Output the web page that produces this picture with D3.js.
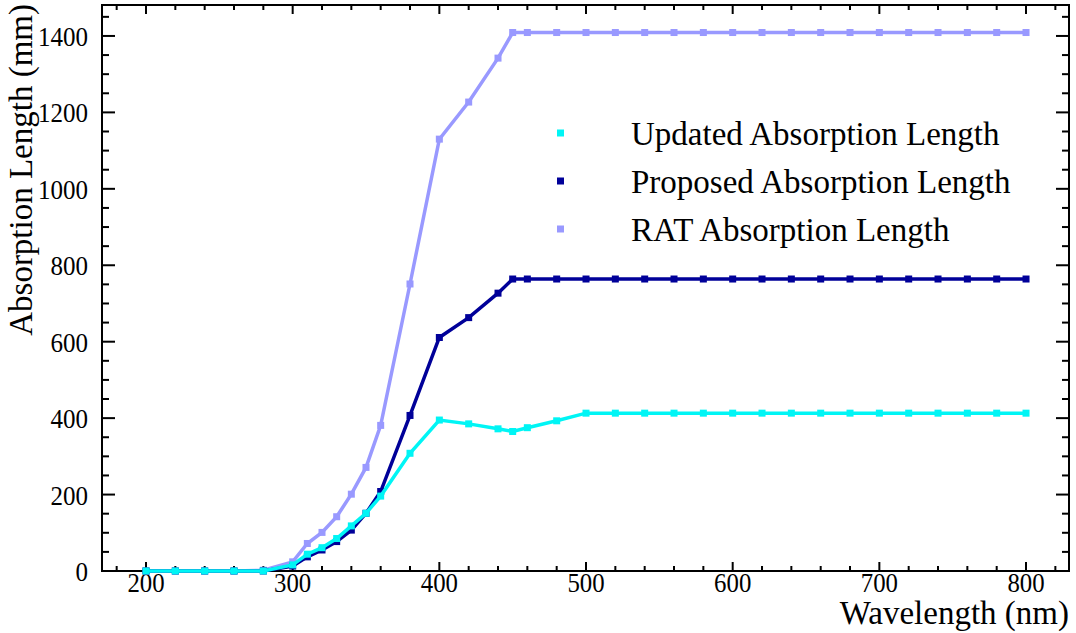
<!DOCTYPE html>
<html>
<head>
<meta charset="utf-8">
<script src="https://cdn.jsdelivr.net/npm/d3@7"></script>
<style>
  body { margin: 0; background: #fff; }
  text { font-family: "Liberation Serif", "DejaVu Serif", serif; }
</style>
</head>
<body>
<div id="chart"></div>
<script>
// wavelengths (nm)
var wavelengths = [200, 220, 240, 260, 280, 300, 310, 320, 330, 340, 350, 360, 380, 400, 420, 440, 450, 460,
                   480, 500, 520, 540, 560, 580, 600, 620, 640, 660, 680, 700, 720, 740, 760, 780, 800];

// absorption lengths (mm)
var updatedLen  = [0, 0, 0, 0, 0, 16, 44, 61, 85, 118, 151, 196, 308, 395, 385, 372, 365, 375,
                   393, 413, 413, 413, 413, 413, 413, 413, 413, 413, 413, 413, 413, 413, 413, 413, 413];
var proposedLen = [0, 0, 0, 0, 0, 13, 37, 55, 77, 107, 151, 208, 407, 611, 663, 727, 764, 764,
                   764, 764, 764, 764, 764, 764, 764, 764, 764, 764, 764, 764, 764, 764, 764, 764, 764];
var ratLen      = [0, 0, 0, 0, 2, 24, 72, 101, 142, 201, 271, 381, 751, 1130, 1227, 1342, 1409, 1409,
                   1409, 1409, 1409, 1409, 1409, 1409, 1409, 1409, 1409, 1409, 1409, 1409, 1409, 1409, 1409, 1409, 1409];

var seriesNames = ["Updated Absorption Length", "Proposed Absorption Length", "RAT Absorption Length"];
var seriesColors = ["#00f5f5", "#000099", "#9999ff"];
var xTicks = [200, 300, 400, 500, 600, 700, 800];
var yTicks = [0, 200, 400, 600, 800, 1000, 1200, 1400];

function drawChart () {
    var width = 1076, height = 633;
    var padL = 102, padR = 1069, padT = 5, padB = 571;

    var svg = d3.select("#chart").append("svg")
        .attr("width", width)
        .attr("height", height);

    var x = d3.scaleLinear().domain([170, 829.3]).range([padL, padR]);
    var y = d3.scaleLinear().domain([0, 1481]).range([padB, padT]);

    var xMinor = d3.range(180, 821, 20);
    var yMinor = d3.range(0, 1451, 50);

    // tick marks on all four sides (ROOT style)
    var ticks = svg.append("g").attr("stroke", "#000").attr("stroke-width", 2);
    xMinor.forEach(function(v) {
        var len = (v % 100 == 0) ? 9 : 5;
        ticks.append("line").attr("x1", x(v)).attr("x2", x(v)).attr("y1", padB).attr("y2", padB - len);
        ticks.append("line").attr("x1", x(v)).attr("x2", x(v)).attr("y1", padT).attr("y2", padT + len);
    });
    yMinor.forEach(function(v) {
        var len = (v % 200 == 0) ? 13 : 7;
        ticks.append("line").attr("y1", y(v)).attr("y2", y(v)).attr("x1", padL).attr("x2", padL + len);
        ticks.append("line").attr("y1", y(v)).attr("y2", y(v)).attr("x1", padR).attr("x2", padR - len);
    });

    // frame
    svg.append("rect")
        .attr("x", padL).attr("y", padT)
        .attr("width", padR - padL).attr("height", padB - padT)
        .attr("fill", "none").attr("stroke", "#000").attr("stroke-width", 2);

    // tick labels (the reference font is a bit condensed)
    svg.selectAll(".xlab").data(xTicks).enter()
        .append("text").attr("class", "xlab")
        .attr("x", function(d) { return x(d); })
        .attr("y", 592)
        .attr("text-anchor", "middle")
        .attr("font-size", 28)
        .attr("textLength", function(d) { return String(d).length * 12.4; })
        .attr("lengthAdjust", "spacingAndGlyphs")
        .text(function(d) { return d; });

    svg.selectAll(".ylab").data(yTicks).enter()
        .append("text").attr("class", "ylab")
        .attr("x", 88)
        .attr("y", function(d) { return y(d) + 10; })
        .attr("text-anchor", "end")
        .attr("font-size", 28)
        .attr("textLength", function(d) { return String(d).length * 12.5; })
        .attr("lengthAdjust", "spacingAndGlyphs")
        .text(function(d) { return d; });

    // axis titles
    svg.append("text")
        .attr("x", 1069).attr("y", 624)
        .attr("text-anchor", "end")
        .attr("font-size", 33)
        .text("Wavelength (nm)");

    svg.append("text")
        .attr("transform", "translate(32,4) rotate(-90)")
        .attr("text-anchor", "end")
        .attr("font-size", 33)
        .text("Absorption Length (mm)");

    // series
    var allSeries = [updatedLen, proposedLen, ratLen];
    var line = d3.line()
        .x(function(d, i) { return x(wavelengths[i]); })
        .y(function(d) { return y(d); });

    // RAT first, then proposed, updated on top
    [2, 1, 0].forEach(function(k) {
        var g = svg.append("g");
        g.append("path")
            .attr("d", line(allSeries[k]))
            .attr("fill", "none")
            .attr("stroke", seriesColors[k])
            .attr("stroke-width", 3.5);
        g.selectAll("rect").data(allSeries[k]).enter()
            .append("rect")
            .attr("x", function(d, i) { return x(wavelengths[i]) - 3.5; })
            .attr("y", function(d) { return y(d) - 3.5; })
            .attr("width", 7).attr("height", 7)
            .attr("fill", seriesColors[k]);
    });

    // legend
    var legend = svg.append("g");
    seriesNames.forEach(function(name, i) {
        var cy = 133 + i * 48;
        legend.append("rect")
            .attr("x", 557).attr("y", cy - 3.5)
            .attr("width", 7).attr("height", 7)
            .attr("fill", seriesColors[i]);
        legend.append("text")
            .attr("x", 631).attr("y", cy + 12)
            .attr("font-size", 33)
            .text(name);
    });
}

drawChart();
</script>
</body>
</html>
